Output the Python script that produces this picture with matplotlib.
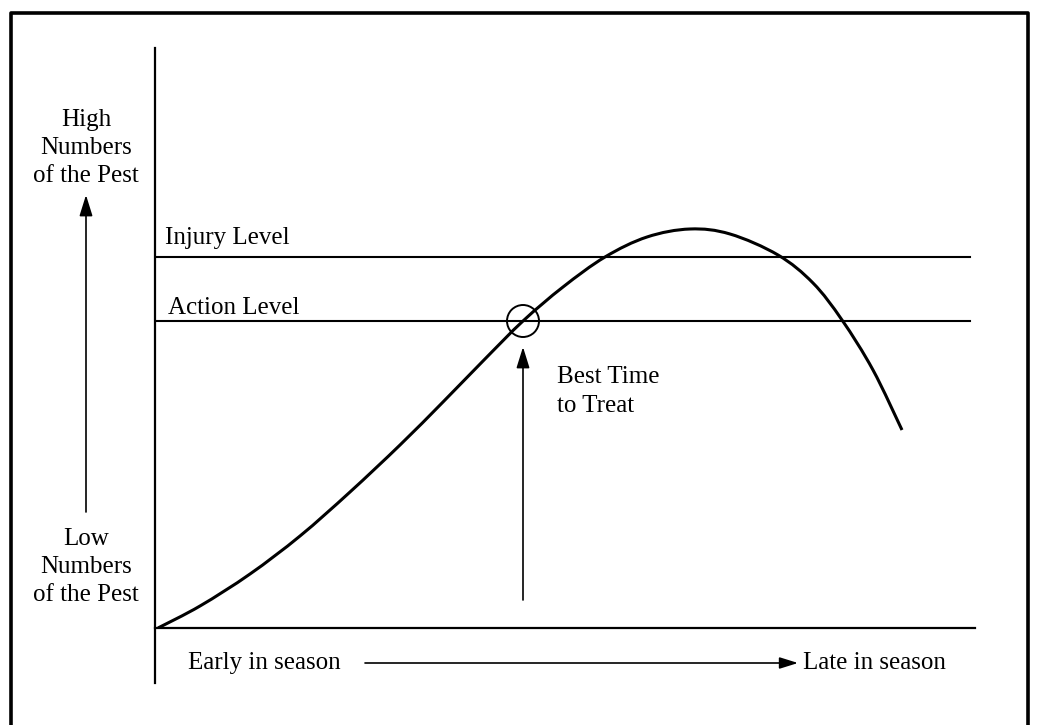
import matplotlib
matplotlib.use("Agg")
import matplotlib.pyplot as plt
from matplotlib.patches import Circle, PathPatch
from matplotlib.path import Path
from matplotlib.lines import Line2D

# season position (px right of the y axis) and pest numbers (px above the baseline)
season = [3, 45, 95, 145, 195, 245, 288, 328, 368, 408, 450, 492, 535, 575, 623, 658, 687, 718, 747]
pests = [0, 22, 54, 92, 136, 183, 226, 267, 307, 341, 371, 391, 399, 394, 373, 345, 308, 258, 198]

injury_level = 371
action_level = 307
best_time = 368
levels_end = 815
season_end = 820

plt.rcParams['font.family'] = ['Liberation Serif', 'DejaVu Serif']

fig = plt.figure(figsize=(10.38, 7.25), dpi=100)
ax = fig.add_axes([155 / 1038, 97 / 725, 820 / 1038, 580 / 725])
ax.set_xlim(0, 820)
ax.set_ylim(0, 580)
ax.axis('off')

# frame around the whole picture (bottom edge is cut off)
fig.add_artist(Line2D([11 / 1038, 11 / 1038, 1028 / 1038, 1028 / 1038],
                      [-0.05, 1 - 13 / 725, 1 - 13 / 725, -0.05],
                      transform=fig.transFigure, color='black', lw=2.6))

# axes
ax.plot([0, 0], [-55, 580], color='black', lw=1.6, clip_on=False)
ax.plot([0, season_end], [0, 0], color='black', lw=1.6, clip_on=False)

# levels
ax.plot([0, levels_end], [injury_level, injury_level], color='black', lw=1.5)
ax.plot([0, levels_end], [action_level, action_level], color='black', lw=1.5)

# pest population curve, drawn as a smooth bezier path through the points
verts = [(season[0], pests[0])]
codes = [Path.MOVETO]
n = len(season)
for i in range(n - 1):
    x0, y0 = season[max(i - 1, 0)], pests[max(i - 1, 0)]
    x1, y1 = season[i], pests[i]
    x2, y2 = season[i + 1], pests[i + 1]
    x3, y3 = season[min(i + 2, n - 1)], pests[min(i + 2, n - 1)]
    verts += [(x1 + (x2 - x0) / 6, y1 + (y2 - y0) / 6),
              (x2 - (x3 - x1) / 6, y2 - (y3 - y1) / 6),
              (x2, y2)]
    codes += [Path.CURVE4] * 3
ax.add_patch(PathPatch(Path(verts, codes), fill=False, edgecolor='black', lw=2.2))

# best time marker
head = '-|>,head_length=0.8,head_width=0.25'
ax.add_patch(Circle((best_time, action_level), 16, fill=False, color='black', lw=1.4))
ax.annotate('', xy=(best_time, 281), xytext=(best_time, 28),
            arrowprops=dict(arrowstyle=head, color='black', lw=1.2,
                            mutation_scale=16, shrinkA=0, shrinkB=0))

fs = 18
ls = 1.35
ax.text(10, 384, 'Injury Level', fontsize=fs, ha='left', va='baseline')
ax.text(13, 314, 'Action Level', fontsize=fs, ha='left', va='baseline')
ax.text(402, 245, 'Best Time', fontsize=fs, ha='left', va='baseline')
ax.text(402, 216, 'to Treat', fontsize=fs, ha='left', va='baseline')

# y direction
ax.text(-69, 480, 'High\nNumbers\nof the Pest', fontsize=fs, ha='center', va='center',
        multialignment='center', linespacing=ls, clip_on=False)
ax.text(-69, 61, 'Low\nNumbers\nof the Pest', fontsize=fs, ha='center', va='center',
        multialignment='center', linespacing=ls, clip_on=False)
ax.annotate('', xy=(-69, 433), xytext=(-69, 116),
            arrowprops=dict(arrowstyle=head, color='black', lw=1.2,
                            mutation_scale=16, shrinkA=0, shrinkB=0),
            annotation_clip=False)

# x direction
ax.text(33, -35, 'Early in season', fontsize=fs, ha='left', va='center', clip_on=False)
ax.text(648, -35, 'Late in season', fontsize=fs, ha='left', va='center', clip_on=False)
ax.annotate('', xy=(643, -35), xytext=(210, -35),
            arrowprops=dict(arrowstyle=head, color='black', lw=1.2,
                            mutation_scale=14, shrinkA=0, shrinkB=0),
            annotation_clip=False)

fig.savefig('out.png', dpi=100, facecolor='white')
